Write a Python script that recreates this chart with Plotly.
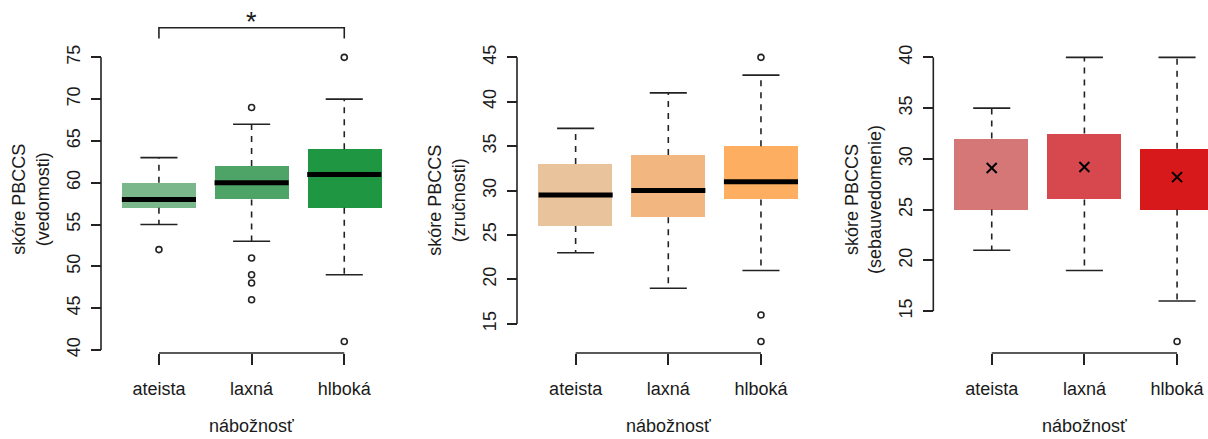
import plotly.graph_objects as go

# ---------------- data ----------------
categories = ["ateista", "laxná", "hlboká"]
x_title = "nábožnosť"

# panel 1: skóre PBCCS (vedomosti)
ved_q1 = [57, 58, 57]
ved_med = [58, 60, 61]
ved_q3 = [60, 62, 64]
ved_lo = [55, 53, 49]
ved_hi = [63, 67, 70]
ved_out = [[52], [69, 51, 49, 48, 46], [75, 41]]
ved_ticks = [40, 45, 50, 55, 60, 65, 70, 75]
ved_colors = ["#7ab88b", "#4da466", "#1f9642"]

# panel 2: skóre PBCCS (zručnosti)
zru_q1 = [26, 27, 29]
zru_med = [29.5, 30, 31]
zru_q3 = [33, 34, 35]
zru_lo = [23, 19, 21]
zru_hi = [37, 41, 43]
zru_out = [[], [], [45, 16, 13]]
zru_ticks = [15, 20, 25, 30, 35, 40, 45]
zru_colors = ["#e8c39c", "#f2b780", "#fdae61"]

# panel 3: skóre PBCCS (sebauvedomenie)
seb_q1 = [25, 26, 25]
seb_q3 = [32, 32.5, 31]
seb_lo = [21, 19, 16]
seb_hi = [35, 40, 40]
seb_mean = [29.1, 29.2, 28.2]
seb_out = [[], [], [12]]
seb_ticks = [15, 20, 25, 30, 35, 40]
seb_colors = ["#d57677", "#d6484d", "#d7191c"]

y_titles = ["skóre PBCCS<br>(vedomosti)", "skóre PBCCS<br>(zručnosti)",
            "skóre PBCCS<br>(sebauvedomenie)"]
signif_label = "*"

# ---------------- layout constants ----------------
W, H = 1208, 439
FONT = "Liberation Sans, Arial, sans-serif"
TXT = "#1a1a1a"
INK = "#222222"
y_dom = [1 - 356 / H, 1 - 45.5 / H]
x_doms = [[112.6 / W, 390.6 / W], [529.3 / W, 807.3 / W], [945.4 / W, 1.0]]
x_ranges = [[0.5, 3.5], [0.5, 3.5], [0.5, 0.5 + 3 * (W - 945.4) / 278]]
yaxis_pos = [101 / W, 517 / W, 933.3 / W]

fig = go.Figure()
pos = [1, 2, 3]


def add_panel(i, q1, med, q3, lo, hi, outs, colors, means=None):
    xa = "x" if i == 0 else f"x{i+1}"
    ya = "y" if i == 0 else f"y{i+1}"
    fig.add_trace(go.Bar(x=pos, y=[b - a for a, b in zip(q1, q3)], base=q1,
                         width=0.8, marker=dict(color=colors, line=dict(width=0)),
                         xaxis=xa, yaxis=ya, hoverinfo="skip"))
    # whiskers (dashed)
    wx, wy = [], []
    for p, a, b, l, h in zip(pos, q1, q3, lo, hi):
        wx += [p, p, None, p, p, None]
        wy += [b, h, None, a, l, None]
    fig.add_trace(go.Scatter(x=wx, y=wy, mode="lines",
                             line=dict(color=INK, width=1.6, dash="6px,6px"),
                             xaxis=xa, yaxis=ya, hoverinfo="skip"))
    # caps
    cx, cy = [], []
    for p, l, h in zip(pos, lo, hi):
        cx += [p - 0.2, p + 0.2, None, p - 0.2, p + 0.2, None]
        cy += [h, h, None, l, l, None]
    fig.add_trace(go.Scatter(x=cx, y=cy, mode="lines",
                             line=dict(color=INK, width=1.6),
                             xaxis=xa, yaxis=ya, hoverinfo="skip"))
    # medians
    if med is not None:
        mx, my = [], []
        for p, m in zip(pos, med):
            mx += [p - 0.4, p + 0.4, None]
            my += [m, m, None]
        fig.add_trace(go.Scatter(x=mx, y=my, mode="lines",
                                 line=dict(color="black", width=5),
                                 xaxis=xa, yaxis=ya, hoverinfo="skip"))
    # outliers
    ox, oy = [], []
    for p, o in zip(pos, outs):
        ox += [p] * len(o)
        oy += o
    if ox:
        fig.add_trace(go.Scatter(x=ox, y=oy, mode="markers",
                                 marker=dict(symbol="circle-open", size=6,
                                             color=INK, line=dict(width=1.6)),
                                 xaxis=xa, yaxis=ya, hoverinfo="skip",
                                 cliponaxis=False))
    if means is not None:
        fig.add_trace(go.Scatter(x=pos, y=means, mode="markers",
                                 marker=dict(symbol="x-thin", size=10,
                                             color="black",
                                             line=dict(width=2, color="black")),
                                 xaxis=xa, yaxis=ya, hoverinfo="skip"))


panels = [
    (ved_q1, ved_med, ved_q3, ved_lo, ved_hi, ved_out, ved_colors, None, ved_ticks),
    (zru_q1, zru_med, zru_q3, zru_lo, zru_hi, zru_out, zru_colors, None, zru_ticks),
    (seb_q1, None, seb_q3, seb_lo, seb_hi, seb_out, seb_colors, seb_mean, seb_ticks),
]

shapes = []
annotations = []
for i, (q1, med, q3, lo, hi, outs, cols, means, ticks) in enumerate(panels):
    add_panel(i, q1, med, q3, lo, hi, outs, cols, means)
    allv = lo + hi + [v for o in outs for v in o]
    vmin, vmax = min(allv), max(allv)
    ext = 0.04 * (vmax - vmin)
    sfx = "" if i == 0 else str(i + 1)
    fig.update_layout(**{
        f"xaxis{sfx}": dict(domain=x_doms[i], range=x_ranges[i], anchor=f"y{sfx}",
                            tickvals=pos, ticktext=categories, ticks="outside",
                            ticklen=11, tickwidth=1.6, tickcolor=INK,
                            showline=False, showgrid=False, zeroline=False,
                            tickfont=dict(family=FONT, size=18, color=TXT),
                            ticklabelstandoff=8),
        f"yaxis{sfx}": dict(domain=y_dom, range=[vmin - ext, vmax + ext],
                            anchor="free", position=yaxis_pos[i],
                            tickvals=ticks, ticks="outside", ticklen=10,
                            tickwidth=1.6, tickcolor=INK, tickangle=-90,
                            showline=False, showgrid=False, zeroline=False,
                            tickfont=dict(family=FONT, size=18, color=TXT),
                            ticklabelstandoff=4),
    })
    xr = "x" if i == 0 else f"x{i+1}"
    yr = "y" if i == 0 else f"y{i+1}"
    # R-style axis lines spanning the ticks only
    shapes.append(dict(type="line", xref=xr, yref="paper", x0=1, x1=3,
                       y0=y_dom[0], y1=y_dom[0],
                       line=dict(color=INK, width=1.6)))
    shapes.append(dict(type="line", xref="paper", yref=yr,
                       x0=yaxis_pos[i], x1=yaxis_pos[i],
                       y0=ticks[0], y1=ticks[-1],
                       line=dict(color=INK, width=1.6)))
    annotations.append(dict(text=y_titles[i], xref="paper", yref="paper",
                            x=(yaxis_pos[i] * W - 70) / W, y=1 - 201 / H,
                            xanchor="center", yanchor="middle", textangle=-90,
                            showarrow=False,
                            font=dict(family=FONT, size=18, color=TXT)))
    annotations.append(dict(text=x_title, xref=xr, yref="paper", x=2,
                            y=1 - 430 / H, xanchor="center", yanchor="middle",
                            showarrow=False,
                            font=dict(family=FONT, size=18, color=TXT)))

# significance bracket on panel 1
yb0, yb1 = 1 - 38 / H, 1 - 27 / H
shapes.append(dict(type="path", xref="x", yref="paper",
                   path=f"M 1,{yb0} L 1,{yb1} L 3,{yb1} L 3,{yb0}",
                   line=dict(color=INK, width=1.6)))
annotations.append(dict(text=signif_label, xref="x", yref="paper", x=2,
                        y=1 - 21 / H, xanchor="center", yanchor="middle",
                        showarrow=False,
                        font=dict(family=FONT, size=27, color=TXT)))

fig.update_layout(width=W, height=H, margin=dict(l=0, r=0, t=0, b=0),
                  paper_bgcolor="white", plot_bgcolor="white",
                  showlegend=False, shapes=shapes, annotations=annotations,
                  bargap=0)

fig.write_html("out.html", config={"displayModeBar": False},
               post_script="document.body.style.margin='0';document.body.style.overflow='hidden';")
